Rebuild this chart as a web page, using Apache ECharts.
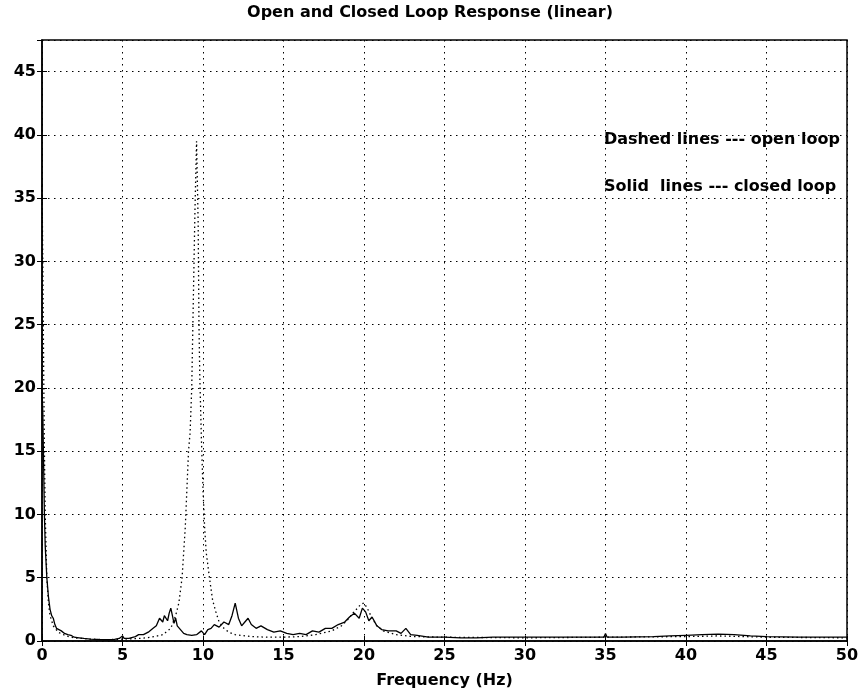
<!DOCTYPE html>
<html>
<head>
<meta charset="utf-8">
<script src="https://cdn.jsdelivr.net/npm/echarts@6/dist/echarts.min.js"></script>
<style>
html,body{margin:0;padding:0;background:#fff;}
#c{width:860px;height:691px;}
</style>
</head>
<body>
<div id="c"></div>
<script>
const titleText = 'Open and Closed Loop Response (linear)';
const xLabel = 'Frequency (Hz)';
const note1 = 'Dashed lines --- open loop';
const note2 = 'Solid  lines --- closed loop';

const openFreq = [0,0.05,0.1,0.15,0.2,0.3,0.4,0.5,0.7,1,1.5,2,3,4,5,6,6.5,7,7.5,8,8.3,8.5,8.7,8.9,9.0,9.1,9.2,9.3,9.4,9.5,9.6,9.7,9.75,9.8,9.9,10.0,10.1,10.2,10.4,10.6,10.8,11.0,11.3,11.6,12,13,14,15,16,17,18,18.6,19.0,19.3,19.6,19.8,20.0,20.2,20.5,20.8,21.2,22,23,25,30,35,40,42,45,50];
const openVal  = [36,30,22,15,10,5,3,2,1.2,0.7,0.4,0.25,0.15,0.1,0.15,0.2,0.25,0.35,0.5,1.0,2.0,3.0,5.0,9.0,12,15,16.5,20,27,34,39.5,33,25,21,16,12,9,7,5,3.2,2.3,1.5,1.0,0.7,0.5,0.35,0.3,0.3,0.35,0.5,0.8,1.2,1.7,2.2,2.6,2.9,3.0,2.6,1.8,1.2,0.8,0.5,0.35,0.3,0.25,0.3,0.35,0.4,0.3,0.25];

const closedFreq = [0,0.05,0.1,0.15,0.2,0.3,0.4,0.5,0.6,0.7,0.8,0.9,1.0,1.2,1.4,1.6,1.8,2.0,2.3,2.6,3,3.5,4,4.5,4.8,5,5.1,5.4,5.8,6,6.3,6.6,6.9,7.1,7.3,7.5,7.6,7.8,7.9,8.0,8.1,8.2,8.3,8.4,8.6,8.8,9.0,9.3,9.6,9.9,10.1,10.3,10.5,10.7,11,11.3,11.6,11.8,12.0,12.2,12.4,12.6,12.8,13.0,13.3,13.6,14,14.4,14.8,15.2,15.6,16,16.4,16.8,17.2,17.6,18,18.4,18.8,19.1,19.4,19.7,19.9,20.1,20.3,20.5,20.8,21.1,21.5,22,22.3,22.6,22.9,23.3,24,25,26,27,28,30,32,34,34.9,35,35.1,36,38,39,40,41,42,43,44,45,47,50];
const closedVal  = [20,18,14,10,7.5,5,3.5,2.5,2,1.8,1.3,1.0,0.9,0.8,0.6,0.5,0.45,0.3,0.25,0.2,0.15,0.12,0.1,0.12,0.2,0.4,0.2,0.2,0.35,0.5,0.5,0.7,1.0,1.2,1.8,1.5,2.0,1.6,2.2,2.6,2.0,1.4,1.8,1.2,0.9,0.6,0.5,0.45,0.5,0.8,0.5,0.9,1.0,1.3,1.1,1.5,1.3,2.0,3.0,1.8,1.2,1.5,1.8,1.3,1.0,1.2,0.9,0.7,0.8,0.6,0.5,0.6,0.5,0.8,0.7,1.0,1.0,1.3,1.5,1.9,2.2,1.8,2.6,2.3,1.6,1.9,1.2,0.9,0.8,0.8,0.6,1.0,0.5,0.45,0.3,0.3,0.25,0.25,0.3,0.3,0.3,0.3,0.3,0.6,0.3,0.3,0.35,0.4,0.45,0.5,0.55,0.5,0.4,0.35,0.3,0.3];

const xTicks = [0,5,10,15,20,25,30,35,40,45,50];
const yTicks = [0,5,10,15,20,25,30,35,40,45];

const zip = (a, b) => a.map((v, i) => [v, b[i]]);

const font = '"DejaVu Sans", Verdana, sans-serif';
const chart = echarts.init(document.getElementById('c'), null, {renderer: 'canvas'});

const gridLine = {show: true, lineStyle: {color: '#000', width: 1, type: [1.5, 4.5]}};
chart.setOption({
  animation: false,
  backgroundColor: '#fff',
  title: {
    text: titleText, left: 'center', top: 5,
    textStyle: {fontFamily: font, fontSize: 16, fontWeight: 'bold', color: '#000'},
    padding: 0, itemGap: 0
  },
  grid: {left: 42, right: 13, top: 40, bottom: 50, show: true, borderColor: '#000', borderWidth: 1.5,
    containLabel: false, outerBoundsMode: 'none'},
  xAxis: [{
    type: 'value', min: 0, max: 50, interval: 5,
    name: xLabel, nameLocation: 'middle', nameGap: 32,
    nameTextStyle: {fontFamily: font, fontSize: 16, fontWeight: 'bold', color: '#000'},
    axisLine: {show: true, lineStyle: {color: '#000', width: 1.5}},
    axisTick: {show: true, inside: true, length: 5, lineStyle: {color: '#000'}},
    axisLabel: {fontFamily: font, fontSize: 16, fontWeight: 'bold', color: '#000', margin: 7,
      formatter: v => xTicks.includes(v) ? String(v) : ''},
    splitLine: gridLine
  }, {
    type: 'value', min: 0, max: 50, interval: 5, position: 'top',
    axisLine: {show: false}, axisTick: {show: true, inside: true, length: 5, lineStyle: {color: '#000'}},
    axisLabel: {show: false}, splitLine: {show: false}
  }],
  yAxis: [{
    type: 'value', min: 0, max: 47.5, interval: 5,
    axisLine: {show: true, lineStyle: {color: '#000', width: 1.5}},
    axisTick: {show: true, inside: true, length: 5, lineStyle: {color: '#000'}},
    axisLabel: {fontFamily: font, fontSize: 16, fontWeight: 'bold', color: '#000', margin: 6, showMaxLabel: false,
      formatter: v => yTicks.includes(v) ? String(v) : ''},
    splitLine: gridLine
  }, {
    type: 'value', min: 0, max: 47.5, interval: 5, position: 'right',
    axisLine: {show: false}, axisTick: {show: true, inside: true, length: 5, lineStyle: {color: '#000'}},
    axisLabel: {show: false}, splitLine: {show: false}
  }],
  series: [{
    name: 'open loop', type: 'line', data: zip(openFreq, openVal),
    showSymbol: false, symbol: 'none',
    lineStyle: {color: '#000', width: 1.3, type: [1.5, 3]}
  }, {
    name: 'closed loop', type: 'line', data: zip(closedFreq, closedVal),
    showSymbol: false, symbol: 'none',
    lineStyle: {color: '#000', width: 1.3}
  }],
  graphic: [{
    type: 'text', left: 604, top: 132,
    style: {text: note1, font: 'bold 16px ' + font, fill: '#000'}
  }, {
    type: 'text', left: 604, top: 179,
    style: {text: note2, font: 'bold 16px ' + font, fill: '#000'}
  }]
});
</script>
</body>
</html>
